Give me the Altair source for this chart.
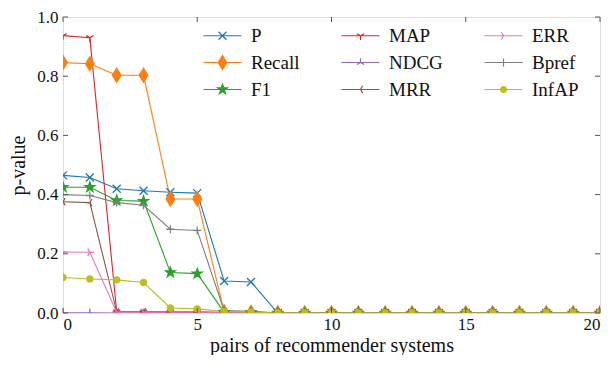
import math
import altair as alt
import pandas as pd

# ---------------- data ----------------
x_vals = list(range(21))
metrics = ["P", "Recall", "F1", "MAP", "NDCG", "MRR", "ERR", "Bpref", "InfAP"]
Z = [0.0] * 13
P = [0.465, 0.458, 0.420, 0.413, 0.408, 0.405, 0.108, 0.105] + Z
Recall = [0.846, 0.842, 0.803, 0.803, 0.385, 0.385, 0.004, 0.002] + Z
F1 = [0.425, 0.425, 0.380, 0.378, 0.137, 0.133, 0.003, 0.002] + Z
MAP = [0.937, 0.930, 0.004, 0.004, 0.003, 0.003, 0.002, 0.001] + Z
NDCG = [0.001, 0.001, 0.0, 0.0, 0.0, 0.0, 0.0, 0.0] + Z
MRR = [0.376, 0.373, 0.004, 0.004, 0.003, 0.003, 0.001, 0.001] + Z
ERR = [0.206, 0.205, 0.003, 0.003, 0.003, 0.003, 0.001, 0.001] + Z
Bpref = [0.400, 0.397, 0.373, 0.364, 0.283, 0.279, 0.008, 0.006] + Z
InfAP = [0.120, 0.115, 0.112, 0.103, 0.017, 0.014, 0.005, 0.003] + Z
series = [P, Recall, F1, MAP, NDCG, MRR, ERR, Bpref, InfAP]
colors = ["#1f77b4", "#ff7f0e", "#2ca02c", "#d62728", "#9467bd",
          "#8c564b", "#e377c2", "#7f7f7f", "#bcbd22"]
x_ticks = [0, 5, 10, 15, 20]
y_ticks = [0.0, 0.2, 0.4, 0.6, 0.8, 1.0]

rows = []
for m, vals in zip(metrics, series):
    for xv, yv in zip(x_vals, vals):
        rows.append({"x": xv, "y": yv, "metric": m})
df = pd.DataFrame(rows)
xt_df = pd.DataFrame({"v": x_ticks})
yt_df = pd.DataFrame({"v": y_ticks})


# ---------------- marker geometry (pixel radii) ----------------
def fmt(v):
    return f"{v:.3f}"


def marker_paths(s):
    """s = pixels per unit of the path coordinate system."""
    def r(px):
        return px / s

    a = r(4)
    xm = f"M{fmt(-a)},{fmt(-a)}L{fmt(a)},{fmt(a)}M{fmt(-a)},{fmt(a)}L{fmt(a)},{fmt(-a)}"
    dw, dh = r(4.3), r(7)
    dm = f"M0,{fmt(-dh)}L{fmt(dw)},0L0,{fmt(dh)}L{fmt(-dw)},0Z"
    ro, ri = r(5.2), r(2.1)
    pts = []
    for i in range(10):
        ang = -math.pi / 2 + i * math.pi / 5
        rr = ro if i % 2 == 0 else ri
        pts.append((rr * math.cos(ang), rr * math.sin(ang)))
    sm = "M" + "L".join(f"{fmt(px)},{fmt(py)}" for px, py in pts) + "Z"
    t = r(4.2)
    c, h = t * 0.866, t * 0.5

    def tri(dirs):
        return "".join(f"M0,0L{fmt(dx)},{fmt(dy)}" for dx, dy in dirs)

    tri_down = tri([(0, t), (-c, -h), (c, -h)])
    tri_up = tri([(0, -t), (-c, h), (c, h)])
    tri_left = tri([(-t, 0), (h, -c), (h, c)])
    tri_right = tri([(t, 0), (-h, -c), (-h, c)])
    p = r(4)
    plus = f"M{fmt(-p)},0L{fmt(p)},0M0,{fmt(-p)}L0,{fmt(p)}"
    q = r(3)
    circ = f"M{fmt(q)},0A{fmt(q)},{fmt(q)} 0 1,1 {fmt(-q)},0A{fmt(q)},{fmt(q)} 0 1,1 {fmt(q)},0Z"
    return [xm, dm, sm, tri_down, tri_up, tri_left, tri_right, plus, circ]


PT_SIZE = 100          # 5 px per unit
plot_shapes = marker_paths(5.0)
LEG_SIZE = 196         # 7 px per unit; nominal symbol 14 px
LEG_PX = 7.0
half_line = 19.0 / LEG_PX
leg_shapes = [f"M{fmt(-half_line)},0L{fmt(half_line)},0" + pth for pth in marker_paths(LEG_PX)]

col_for = dict(zip(metrics, colors))
plot_shape_for = dict(zip(metrics, plot_shapes))
leg_shape_for = dict(zip(metrics, leg_shapes))
dom = metrics
col_range = [col_for[m] for m in dom]

FONT = "Liberation Serif"
W, H = 537, 296
TK = 5  # inward tick length
TICK_COLOR = "#555"

xscale = alt.Scale(domain=[0, 20], nice=False, zero=False)
yscale = alt.Scale(domain=[0, 1], nice=False)


def cscale():
    return alt.Scale(domain=dom, range=col_range)


x_bottom = alt.Axis(values=x_ticks, orient="bottom", ticks=False, domain=False, grid=False,
                    labelPadding=3, title="pairs of recommender systems",
                    titleFontSize=20, titlePadding=3, labelFontSize=17,
                    labelFont=FONT, titleFont=FONT, titleFontWeight="normal",
                    labelColor="#111", titleColor="#111")
y_left = alt.Axis(values=y_ticks, orient="left", ticks=False, domain=False, grid=False,
                  format=".1f", labelPadding=5, title="p-value",
                  titleAngle=270, titleFontSize=20, titlePadding=8, labelFontSize=17,
                  labelFont=FONT, titleFont=FONT, titleFontWeight="normal",
                  labelColor="#111", titleColor="#111")

lines = alt.Chart(df).mark_line(strokeWidth=1.1, clip=True).encode(
    x=alt.X("x:Q", scale=xscale, axis=x_bottom),
    y=alt.Y("y:Q", scale=yscale, axis=y_left),
    stroke=alt.Stroke("metric:N", scale=cscale(), legend=None),
    detail="metric:N",
    order=alt.Order("x:Q"),
)

points = alt.Chart(df).mark_point(filled=True, size=PT_SIZE, strokeWidth=1.3,
                                  opacity=1, clip=True).encode(
    x=alt.X("x:Q", scale=xscale, axis=None),
    y=alt.Y("y:Q", scale=yscale, axis=None),
    fill=alt.Fill("metric:N", scale=cscale(), legend=None),
    stroke=alt.Stroke("metric:N", scale=cscale(), legend=None),
    shape=alt.Shape("metric:N", scale=alt.Scale(domain=dom, range=[plot_shape_for[m] for m in dom]),
                    legend=None),
)

# inward tick marks on all four sides, positioned by the scales
tick_rule = dict(color=TICK_COLOR, strokeWidth=1)
xt_bottom = alt.Chart(xt_df).mark_rule(**tick_rule).encode(
    x=alt.X("v:Q", scale=xscale, axis=None), y=alt.value(H), y2=alt.value(H - TK))
xt_top = alt.Chart(xt_df).mark_rule(**tick_rule).encode(
    x=alt.X("v:Q", scale=xscale, axis=None), y=alt.value(0), y2=alt.value(TK))
yt_left = alt.Chart(yt_df).mark_rule(**tick_rule).encode(
    y=alt.Y("v:Q", scale=yscale, axis=None), x=alt.value(0), x2=alt.value(TK))
yt_right = alt.Chart(yt_df).mark_rule(**tick_rule).encode(
    y=alt.Y("v:Q", scale=yscale, axis=None), x=alt.value(W), x2=alt.value(W - TK))

leg_common = dict(orient="none", legendX=150, legendY=9, columns=3, title=None, padding=0)
legend_layer = alt.Chart(df).mark_point(filled=True, opacity=0, size=LEG_SIZE, clip=True).encode(
    x=alt.X("x:Q", scale=xscale, axis=None),
    y=alt.Y("y:Q", scale=yscale, axis=None),
    shape=alt.Shape("metric:N",
                    scale=alt.Scale(domain=dom, range=[leg_shape_for[m] for m in dom]),
                    legend=alt.Legend(
                        symbolSize=LEG_SIZE, symbolOpacity=1,
                        symbolStrokeWidth=1.2, labelFont=FONT, labelFontSize=19,
                        labelColor="#111", labelOffset=19, rowPadding=7,
                        columnPadding=39, symbolLimit=20, **leg_common)),
    fill=alt.Fill("metric:N", scale=cscale(), legend=alt.Legend(symbolOpacity=1, **leg_common)),
    stroke=alt.Stroke("metric:N", scale=cscale(), legend=alt.Legend(symbolOpacity=1, **leg_common)),
)

chart = alt.layer(lines, points, xt_bottom, xt_top, yt_left, yt_right, legend_layer).resolve_axis(
    x="independent", y="independent"
).resolve_scale(
    shape="independent", fill="independent", stroke="independent"
).properties(
    width=W, height=H, padding={"top": 0, "left": 0, "right": 0, "bottom": 0}
).configure_view(stroke="#222", strokeWidth=1.2).configure(background="white")

chart.save("out.html", embed_options={"renderer": "svg", "actions": False})
